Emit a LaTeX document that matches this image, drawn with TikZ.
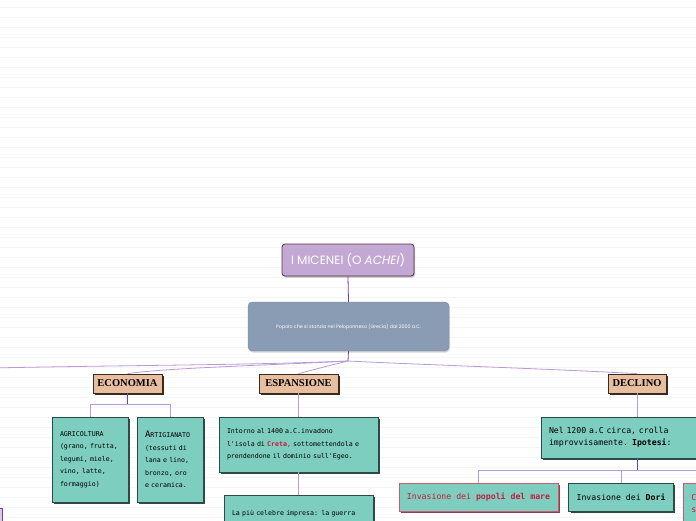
\documentclass[tikz,border=0pt]{standalone}
\usepackage{fontspec}
\setmainfont{Poppins}
\setmonofont{DejaVu Sans Mono}
\newfontfamily\headfont{Liberation Serif}
\usetikzlibrary{shadows}

\definecolor{lilac}{RGB}{196,168,212}
\definecolor{plum}{RGB}{85,50,75}
\definecolor{slate}{RGB}{138,155,180}
\definecolor{tan}{RGB}{232,190,160}
\definecolor{bark}{RGB}{60,40,30}
\definecolor{mint}{RGB}{126,206,192}
\definecolor{pine}{RGB}{45,75,70}
\definecolor{rose}{RGB}{205,90,110}
\definecolor{crimson}{RGB}{200,25,60}
\definecolor{vine}{RGB}{185,155,212}
\definecolor{grape}{RGB}{120,60,165}
\definecolor{rulegrey}{RGB}{246,246,246}

\begin{document}
\begin{tikzpicture}[x=1pt,y=-1pt,
  topbox/.style={draw=plum, line width=0.8pt, fill=lilac, rounded corners=3pt,
    minimum width=132pt, minimum height=32pt, text=white,
    font=\fontsize{12}{14}\selectfont,
    drop shadow={shadow xshift=1pt, shadow yshift=-1.5pt, fill=black, opacity=0.25}},
  infobox/.style={fill=slate, draw=slate!90!black, line width=0.3pt, rounded corners=4pt,
    minimum width=201pt, minimum height=49pt, text=white,
    font=\fontsize{4.8}{6}\selectfont,
    drop shadow={shadow xshift=1pt, shadow yshift=-1.5pt, fill=black, opacity=0.15}},
  headbox/.style={draw=bark, line width=0.7pt, fill=tan, minimum height=19pt, inner xsep=3pt,
    font=\headfont\bfseries\fontsize{10.5}{12}\selectfont,
    drop shadow={shadow xshift=1.5pt, shadow yshift=-1.5pt, fill=bark, opacity=1}},
  notebox/.style={draw=pine, line width=0.6pt, fill=mint, align=left, inner xsep=8pt,
    font=\ttfamily\fontsize{6.6}{12.5}\selectfont},
  bignote/.style={notebox, font=\ttfamily\fontsize{8.2}{12}\selectfont},
  darkshade/.style={drop shadow={shadow xshift=2pt, shadow yshift=-2pt, fill=pine, opacity=1}},
  redshade/.style={drop shadow={shadow xshift=2pt, shadow yshift=-2pt, fill=rose!70!black, opacity=1}},
  redbox/.style={bignote, draw=rose, text=crimson, redshade},
  link/.style={draw=vine, line width=0.8pt},
  stem/.style={draw=grape, line width=0.8pt},
  ruleline/.style={draw=rulegrey, line width=0.6pt}]

  \clip (0,0) rectangle (696,520);
  \fill[white] (0,0) rectangle (696,520);
  \foreach \y in {7,17,...,517}
    \draw[ruleline] (0,\y) -- (696,\y);

  % Root and description
  \node[topbox] (micenei) at (348,260) {I MICENEI (O \textit{ACHEI})};
  \node[infobox] (popolo) at (348.5,326.5) {Popolo che si stanzia nel Peloponneso (Grecia) dal 2000 a.C.};
  \coordinate (hub) at (348,361);
  \coordinate (ovest) at (-10,368);

  % Branches
  \node[headbox, minimum width=69pt] (economia) at (127.5,383.5) {ECONOMIA};
  \node[headbox, minimum width=79pt] (espansione) at (298.5,383.5) {ESPANSIONE};
  \node[headbox, minimum width=58pt] (declino) at (637,383.5) {DECLINO};

  % Economia
  \node[notebox, darkshade, text width=60pt, minimum height=85pt] (agricoltura) at (90,459.5)
    {AGRICOLTURA\\(grano, frutta,\\legumi, miele,\\vino, latte,\\formaggio)};
  \node[notebox, darkshade, text width=50pt, minimum height=85pt] (artigianato) at (170,459.5)
    {{\fontsize{9}{9}\selectfont A}RTIGIANATO\\(tessuti di\\lana e lino,\\bronzo, oro\\e ceramica.};

  % Espansione
  \node[notebox, darkshade, text width=143pt, minimum height=55pt] (creta) at (298.5,444.5)
    {Intorno al 1400 a.C.invadono\\l'isola di \textcolor{crimson}{\textbf{Creta,}} sottomettendola e\\prendendone il dominio sull'Egeo.};
  \node[notebox, darkshade, text width=133pt, anchor=north, inner ysep=15pt] (guerra) at (298.5,495)
    {La più celebre impresa: la guerra};

  % Declino
  \node[bignote, darkshade, text width=176pt, minimum height=41pt] (crollo) at (637,437.5)
    {Nel 1200 a.C circa, crolla\\improvvisamente. \textbf{Ipotesi}:};
  \node[redbox, minimum width=159pt, minimum height=28pt] (popoli) at (478.5,497)
    {Invasione dei \textbf{popoli del mare}};
  \node[bignote, darkshade, minimum width=104pt, minimum height=28pt] (dori) at (621,497)
    {Invasione dei \textbf{Dori}};
  \node[redbox, anchor=north west, text width=80pt, minimum height=40pt] (terza) at (683,483)
    {C\\s};

  % Left edge
  \node[draw=grape, fill=lilac!60, line width=0.8pt, minimum width=60pt, minimum height=40pt,
    anchor=north east] (sinistra) at (3,508) {};

  % Connectors
  \draw[stem] (micenei.south) -- (popolo.north);
  \draw[stem] (popolo.south) -- (hub);
  \draw[link] (hub) .. controls +(-90,4) and +(150,-3) .. (ovest);
  \draw[link] (hub) .. controls +(-70,4) and +(40,-6) .. (economia.north);
  \draw[link] (hub) .. controls +(-20,5) and +(30,-8) .. (espansione.north);
  \draw[link] (hub) .. controls +(80,4) and +(-90,-5) .. (declino.north);

  \draw[link] (economia.south) -- ++(0,11) -| (agricoltura.north);
  \draw[link] (economia.south) -- ++(0,11) -| (artigianato.north);
  \draw[stem] (economia.south) -- ++(0,11);

  \draw[link] (espansione.south) -- (creta.north);
  \draw[link] (creta.south) -- (guerra.north);

  \draw[link] (declino.south) -- (crollo.north);
  \draw[link] (crollo.south) -- ++(0,12) -| (popoli.north);
  \draw[link] (crollo.south) -- ++(0,12) -| (dori.north);
  \draw[link] (crollo.south) -- ++(0,12) -| (terza.north);
  \draw[stem] (crollo.south) -- ++(0,12);
\end{tikzpicture}
\end{document}
